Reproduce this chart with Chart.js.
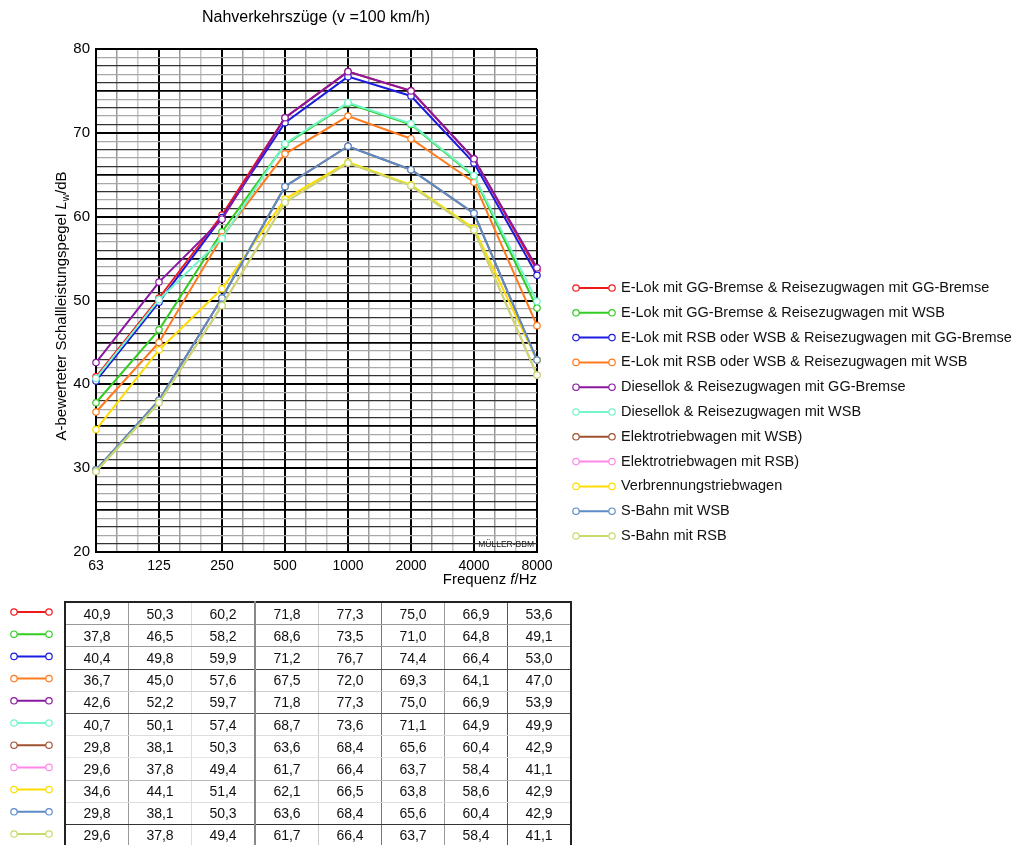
<!DOCTYPE html>
<html>
<head>
<meta charset="utf-8">
<script src="https://cdn.jsdelivr.net/npm/chart.js@4.4.1/dist/chart.umd.min.js"></script>
<style>
  html, body { margin: 0; padding: 0; background: #fff; }
  body { width: 1022px; height: 845px; position: relative; overflow: hidden; font-family: "Liberation Sans", Arial, sans-serif; }
  #chart { position: absolute; left: 0; top: 0; }
  #values { position: absolute; left: 64px; top: 601px; border-collapse: collapse; border: 2px solid #222; }
  #values td { width: 62px; height: 21.2px; padding: 0; text-align: center; font-size: 14px; color: #111; border-bottom: 1px solid #aaa; border-right: 1px solid #aaa; }
</style>
</head>
<body>
<canvas id="chart" width="1022" height="845"></canvas>
<table id="values"></table>
<script>
// frequency bands (octaves)
const freqLabels = ['63', '125', '250', '500', '1000', '2000', '4000', '8000']

const seriesNames = [
  'E-Lok mit GG-Bremse & Reisezugwagen mit GG-Bremse',
  'E-Lok mit GG-Bremse & Reisezugwagen mit WSB',
  'E-Lok mit RSB oder WSB & Reisezugwagen mit GG-Bremse',
  'E-Lok mit RSB oder WSB & Reisezugwagen mit WSB',
  'Diesellok & Reisezugwagen mit GG-Bremse',
  'Diesellok & Reisezugwagen mit WSB',
  'Elektrotriebwagen mit WSB)',
  'Elektrotriebwagen mit RSB)',
  'Verbrennungstriebwagen',
  'S-Bahn mit WSB',
  'S-Bahn mit RSB'
]

const seriesColors = [
  '#f01a1a', '#33cc22', '#1c1ce0', '#ff7a1c', '#8a17a0', '#74f5cc',
  '#a0522d', '#ff88e8', '#ffdd00', '#5b8cc8', '#c6dc6a'
]

const eLokGgGg = [40.9, 50.3, 60.2, 71.8, 77.3, 75.0, 66.9, 53.6]
const eLokGgWsb = [37.8, 46.5, 58.2, 68.6, 73.5, 71.0, 64.8, 49.1]
const eLokRsbGg = [40.4, 49.8, 59.9, 71.2, 76.7, 74.4, 66.4, 53.0]
const eLokRsbWsb = [36.7, 45.0, 57.6, 67.5, 72.0, 69.3, 64.1, 47.0]
const dieselGg = [42.6, 52.2, 59.7, 71.8, 77.3, 75.0, 66.9, 53.9]
const dieselWsb = [40.7, 50.1, 57.4, 68.7, 73.6, 71.1, 64.9, 49.9]
const etwWsb = [29.8, 38.1, 50.3, 63.6, 68.4, 65.6, 60.4, 42.9]
const etwRsb = [29.6, 37.8, 49.4, 61.7, 66.4, 63.7, 58.4, 41.1]
const vtw = [34.6, 44.1, 51.4, 62.1, 66.5, 63.8, 58.6, 42.9]
const sBahnWsb = [29.8, 38.1, 50.3, 63.6, 68.4, 65.6, 60.4, 42.9]
const sBahnRsb = [29.6, 37.8, 49.4, 61.7, 66.4, 63.7, 58.4, 41.1]

const seriesValues = [eLokGgGg, eLokGgWsb, eLokRsbGg, eLokRsbWsb, dieselGg, dieselWsb,
  etwWsb, etwRsb, vtw, sBahnWsb, sBahnRsb]

const yTicks = [20, 30, 40, 50, 60, 70, 80]

// x axis runs in third-octave steps, octave bands sit on every 3rd step
// later series are painted over earlier ones (lower order = on top)
const datasets = seriesValues.map((vals, i) => ({
  label: seriesNames[i],
  data: vals.map((v, k) => ({ x: k * 3, y: v })),
  order: seriesValues.length - i,
  borderColor: seriesColors[i],
  borderWidth: 2,
  pointRadius: 3.2,
  pointBorderWidth: 1.2,
  pointBackgroundColor: '#fff',
  pointBorderColor: seriesColors[i],
  tension: 0,
  clip: false
}))

const FONT = '"Liberation Sans", Arial, sans-serif'

function drawSwatch (ctx, x1, x2, y, color) {
  ctx.save()
  ctx.strokeStyle = color
  ctx.lineWidth = 2
  ctx.beginPath()
  ctx.moveTo(x1, y)
  ctx.lineTo(x2, y)
  ctx.stroke()
  ctx.lineWidth = 1.2
  ctx.fillStyle = '#fff'
  for (const x of [x1, x2]) {
    ctx.beginPath()
    ctx.arc(x, y, 3.2, 0, Math.PI * 2)
    ctx.fill()
    ctx.stroke()
  }
  ctx.restore()
}

const decorations = {
  id: 'decorations',
  afterDraw (chart) {
    const ctx = chart.ctx
    const area = chart.chartArea
    ctx.save()
    ctx.fillStyle = '#000'

    // title
    ctx.font = '16px ' + FONT
    ctx.textAlign = 'center'
    ctx.textBaseline = 'middle'
    ctx.fillText('Nahverkehrszüge (v =100 km/h)', 316, 18)

    // y axis title with italic L and subscript w
    ctx.save()
    ctx.translate(61, 306)
    ctx.rotate(-Math.PI / 2)
    const part1 = 'A-bewerteter Schallleistungspegel '
    const fN = '15px ' + FONT
    const fI = 'italic 15px ' + FONT
    const fS = '10px ' + FONT
    ctx.font = fN
    const w1 = ctx.measureText(part1).width
    const w4 = ctx.measureText('/dB').width
    ctx.font = fI
    const w2 = ctx.measureText('L').width
    ctx.font = fS
    const w3 = ctx.measureText('w').width
    let x = -(w1 + w2 + w3 + w4) / 2
    ctx.textAlign = 'left'
    ctx.textBaseline = 'alphabetic'
    ctx.font = fN; ctx.fillText(part1, x, 5); x += w1
    ctx.font = fI; ctx.fillText('L', x, 5); x += w2
    ctx.font = fS; ctx.fillText('w', x, 8); x += w3
    ctx.font = fN; ctx.fillText('/dB', x, 5)
    ctx.restore()

    // x axis title, right aligned at the plot edge
    ctx.textAlign = 'left'
    ctx.textBaseline = 'middle'
    const a = 'Frequenz '
    const b = 'f'
    const c = '/Hz'
    ctx.font = '15px ' + FONT
    const wa = ctx.measureText(a).width
    const wc = ctx.measureText(c).width
    ctx.font = 'italic 15px ' + FONT
    const wb = ctx.measureText(b).width
    let xt = area.right - (wa + wb + wc)
    ctx.font = '15px ' + FONT; ctx.fillText(a, xt, 580); xt += wa
    ctx.font = 'italic 15px ' + FONT; ctx.fillText(b, xt, 580); xt += wb
    ctx.font = '15px ' + FONT; ctx.fillText(c, xt, 580)

    // watermark
    ctx.font = '8.5px ' + FONT
    ctx.textAlign = 'right'
    ctx.fillStyle = '#222'
    ctx.fillText('MÜLLER-BBM', area.right - 3, 545)

    // legend on the right
    ctx.font = '14.5px ' + FONT
    ctx.textAlign = 'left'
    ctx.fillStyle = '#111'
    seriesNames.forEach((name, i) => {
      const y = 288 + i * 24.8
      drawSwatch(ctx, 576, 612, y, seriesColors[i])
      ctx.fillText(name, 621, y)
    })

    // swatches in front of the table rows
    seriesColors.forEach((col, i) => {
      drawSwatch(ctx, 14, 49, 612 + i * 22.2, col)
    })
    ctx.restore()
  }
}

new Chart(document.getElementById('chart'), {
  type: 'line',
  data: { datasets },
  options: {
    responsive: false,
    animation: false,
    layout: { padding: { top: 49, left: 0, right: 485, bottom: 248 } },
    plugins: {
      legend: { display: false },
      tooltip: { enabled: false }
    },
    scales: {
      x: {
        type: 'linear',
        min: 0,
        max: 21,
        afterFit: (s) => { s.height = 45 },
        border: { display: true, color: '#000', width: 2 },
        grid: {
          drawTicks: false,
          color: (c) => {
            const r = c.tick.value % 3
            return r === 0 ? '#000' : (r === 1 ? '#9a9a9a' : '#c4c4c4')
          },
          lineWidth: (c) => (c.tick.value % 3 === 0 ? 2 : 1.5)
        },
        ticks: {
          stepSize: 1,
          autoSkip: false,
          maxTicksLimit: 100,
          maxRotation: 0,
          padding: 6,
          color: '#000',
          font: { family: FONT, size: 14 },
          callback: (v) => (v % 3 === 0 ? freqLabels[v / 3] : '')
        }
      },
      y: {
        min: 20,
        max: 80,
        afterFit: (s) => { s.width = 96 },
        border: { display: true, color: '#000', width: 2 },
        grid: {
          drawTicks: false,
          color: (c) => {
            const v = c.tick.value
            if (v % 5 === 0) return '#000'
            return (v % 5 === 1 || v % 5 === 3) ? '#333' : '#a8a8a8'
          },
          lineWidth: (c) => {
            const v = c.tick.value
            if (v % 10 === 0) return 2
            if (v % 5 === 0) return 1.8
            return 1.2
          }
        },
        ticks: {
          stepSize: 1,
          autoSkip: false,
          maxTicksLimit: 1000,
          padding: 6,
          color: '#000',
          font: { family: FONT, size: 15 },
          callback: (v) => (yTicks.includes(v) ? String(v) : '')
        }
      }
    }
  },
  plugins: [decorations]
})

// value table below the chart
const table = document.getElementById('values')
const rowLines = ['#999', '#999', '#444', '#ccc', '#555', '#ddd', '#e4e4e4', '#bbb', '#ddd', '#333', '#aaa']
const colLines = ['#999', '#ddd', '#888', '#ccc', '#777', '#999', '#555', '#222']
seriesValues.forEach((vals, i) => {
  const tr = document.createElement('tr')
  vals.forEach((v, k) => {
    const td = document.createElement('td')
    td.textContent = v.toFixed(1).replace('.', ',')
    td.style.borderBottomColor = rowLines[i]
    td.style.borderRightColor = colLines[k]
    if (k === 2) td.style.borderRightWidth = '2px'
    tr.appendChild(td)
  })
  table.appendChild(tr)
})
</script>
</body>
</html>
